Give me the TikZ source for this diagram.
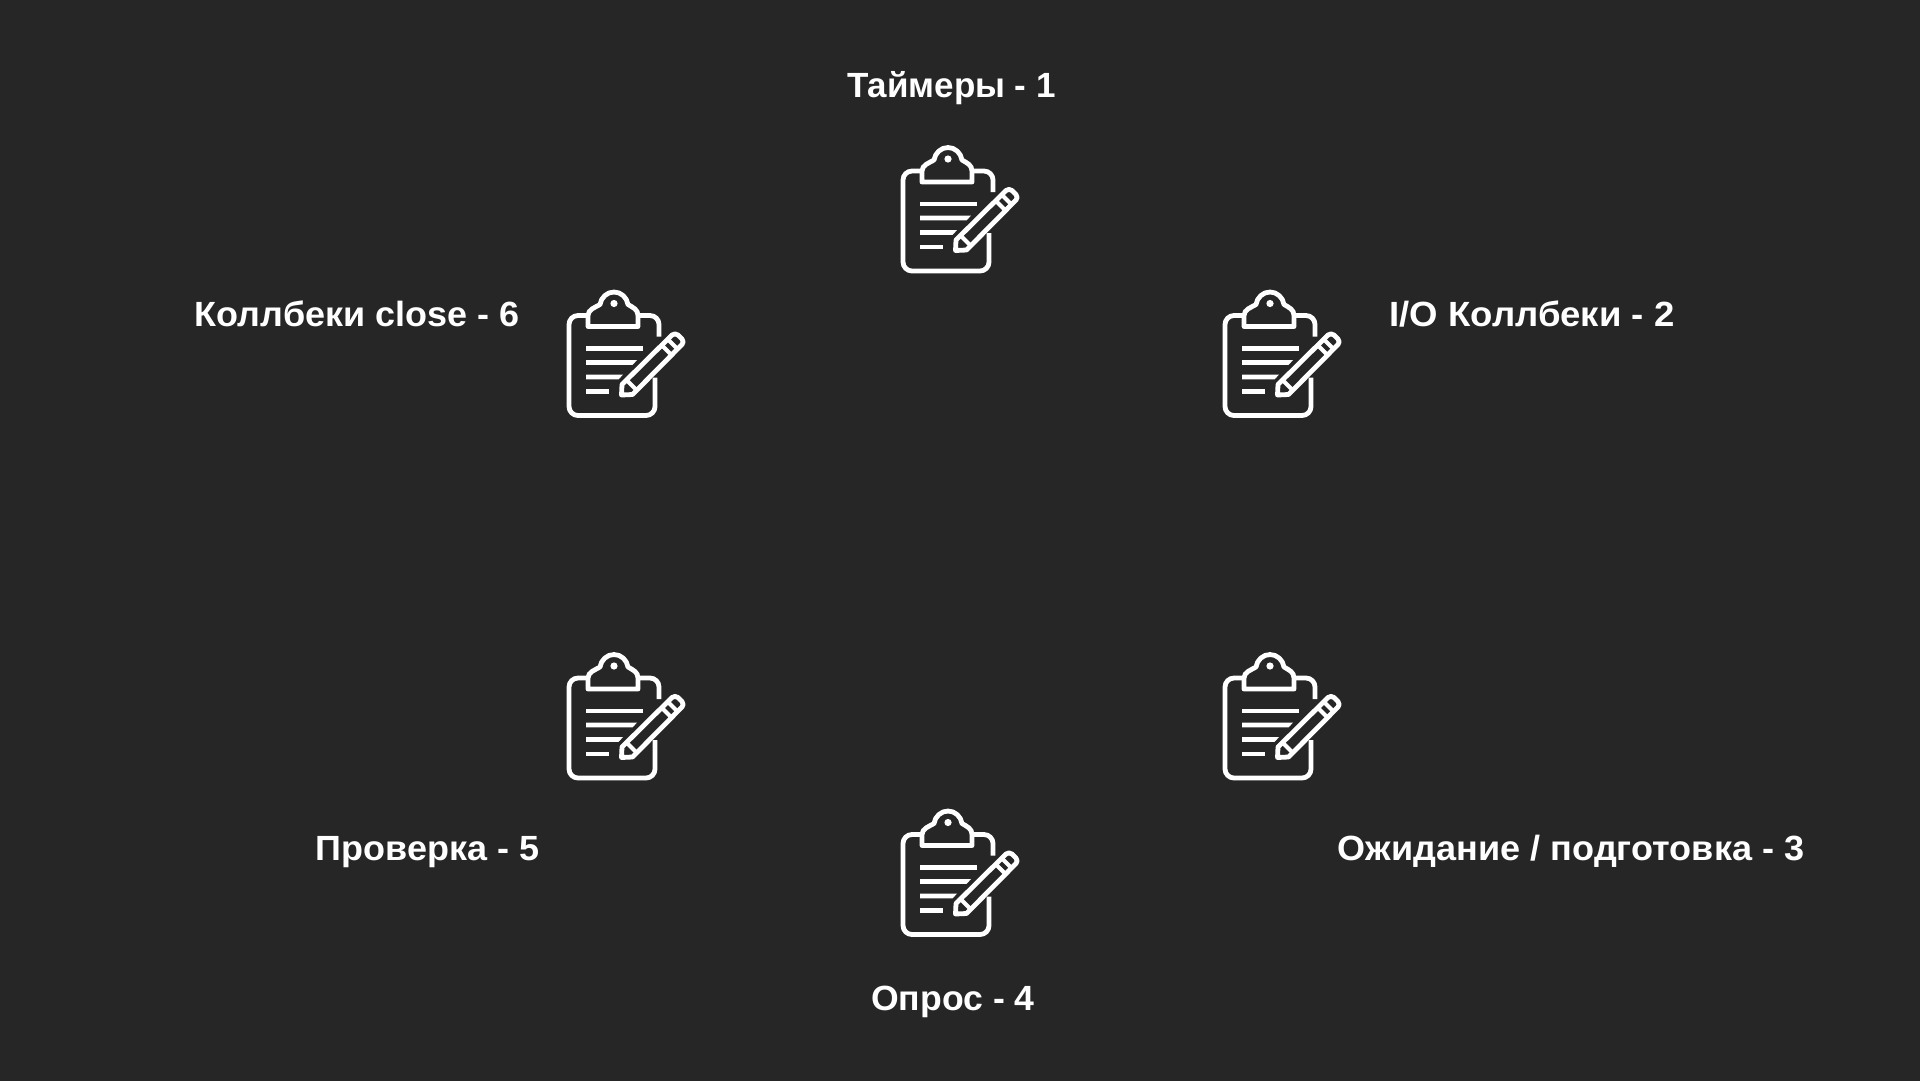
\documentclass[tikz,border=0pt]{standalone}
\usepackage{fontspec}
\setmainfont{Liberation Sans}
\definecolor{bgcol}{HTML}{262626}
\newcommand{\labfont}[1]{\bfseries\fontsize{35}{40}\selectfont\addfontfeatures{FakeStretch=#1}}
\tikzset{
  lab/.style={text=white,anchor=base,inner sep=0pt,font=\labfont{#1}},
  ink/.style={draw=white,line width=4.8pt,line join=round,line cap=butt},
  clipboard/.pic={
    \draw[ink,rounded corners=9pt] (42,41) -- (23,41) -- (23,141) -- (109,141) -- (109,103);
    \draw[ink,rounded corners=9pt] (113,62) -- (113,41) -- (92,41);
    \draw[ink] (42,52) -- (42,41) .. controls (42,35) and (49,33) .. (54,30)
      .. controls (55,23) and (61,17.5) .. (68,17.5)
      .. controls (75,17.5) and (81,23) .. (82,30)
      .. controls (87,33) and (92,35) .. (92,41) -- (92,52) -- cycle;
    \fill[white] (68,29) circle[radius=3.6];
    \draw[ink] (40,74) -- (97,74);
    \fill[white] (40,85.6) -- (91,85.6) -- (86.5,90.4) -- (40,90.4) -- cycle;
    \fill[white] (40,100.1) -- (77,100.1) -- (72.5,104.9) -- (40,104.9) -- cycle;
    \draw[ink] (40,117) -- (63,117);
    \draw[ink] (75.5,120.5) -- (76,110) -- (126,60.5)
      .. controls (128,59) and (130,59) .. (132,60.5) -- (136,64.5)
      .. controls (137.5,66.5) and (137.5,68.5) .. (136,70) -- (86.5,120) -- cycle;
    \draw[ink,line width=4pt] (116,71) -- (126,81);
    \draw[ink,line width=4pt] (122,65) -- (132,75);
    \draw[ink,line width=4pt] (81,106) -- (90.5,115.5);
  }
}
\begin{document}
\begin{tikzpicture}[x=1pt,y=-1pt]
\useasboundingbox (0,0) rectangle (1920,1080);
\fill[bgcol] (-5,-5) rectangle (1925,1085);
\pic (icona) at (880,130) {clipboard};
\pic (iconb) at (1202,274.5) {clipboard};
\pic (iconc) at (1202,637) {clipboard};
\pic (icond) at (880,793.5) {clipboard};
\pic (icone) at (546,637) {clipboard};
\pic (iconf) at (546,274.5) {clipboard};
\node[lab=1.0] (laba) at (951.5,97) {Таймеры - 1};
\node[lab=1.044] (labb) at (1532,326) {I/O Коллбеки - 2};
\node[lab=1.03] (labc) at (1571,860) {Ожидание / подготовка - 3};
\node[lab=1.017] (labd) at (953,1010) {Опрос - 4};
\node[lab=1.028] (labe) at (427.5,860) {Проверка - 5};
\node[lab=1.027] (labf) at (357,326) {Коллбеки close - 6};
\end{tikzpicture}
\end{document}
